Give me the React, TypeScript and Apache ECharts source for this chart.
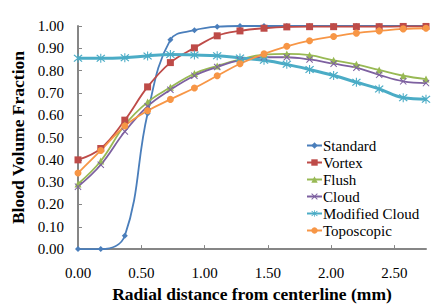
import React, { useEffect, useRef } from "react";
import * as echarts from "echarts";

const radialDistance = [0, 0.18, 0.37, 0.55, 0.73, 0.92, 1.1, 1.28, 1.47, 1.65, 1.83, 2.02, 2.2, 2.38, 2.57, 2.75];
const standard = [0, 0, 0.06, 0.608, 0.938, 0.981, 0.997, 1.0, 1.0, 1.0, 1.0, 1.0, 1.0, 1.0, 1.0, 1.0];
const vortex = [0.4, 0.451, 0.578, 0.727, 0.836, 0.902, 0.956, 0.978, 0.99, 0.996, 0.997, 0.997, 0.997, 0.997, 0.998, 0.998];
const flush = [0.292, 0.395, 0.556, 0.659, 0.725, 0.787, 0.821, 0.85, 0.872, 0.875, 0.869, 0.846, 0.828, 0.803, 0.777, 0.762];
const cloud = [0.28, 0.378, 0.527, 0.64, 0.714, 0.777, 0.816, 0.847, 0.86, 0.86, 0.85, 0.831, 0.813, 0.781, 0.752, 0.744];
const modifiedCloud = [0.855, 0.855, 0.858, 0.866, 0.872, 0.87, 0.867, 0.857, 0.846, 0.828, 0.805, 0.778, 0.748, 0.718, 0.678, 0.672];
const toposcopic = [0.341, 0.442, 0.552, 0.62, 0.671, 0.722, 0.777, 0.831, 0.875, 0.909, 0.934, 0.953, 0.968, 0.978, 0.987, 0.99];
const xTicks = [0, 0.5, 1, 1.5, 2, 2.5];

const X_SYMBOL = "path://M0,1 L1,0 L5,4 L9,0 L10,1 L6,5 L10,9 L9,10 L5,6 L1,10 L0,9 L4,5 Z";
const AST_SYMBOL = "path://M0,1 L1,0 L5,4 L9,0 L10,1 L6,5 L10,9 L9,10 L5,6 L1,10 L0,9 L4,5 Z M4.4,-1 L5.6,-1 L5.6,11 L4.4,11 Z";

const FONT = "Liberation Serif";

export default function App() {
  const ref = useRef<HTMLDivElement>(null);
  useEffect(() => {
    if (!ref.current) return;
    const chart = echarts.init(ref.current, null, { renderer: "svg" });
    const mk = (name: string, data: number[], color: string, symbol: string, size: number, width = 1.8) => ({
      name,
      type: "line",
      data: data.map((v, i) => [radialDistance[i], v]),
      smooth: 0.4,
      symbol,
      symbolSize: size,
      itemStyle: { color },
      lineStyle: { color, width },
    });
    chart.setOption({
      animation: false,
      textStyle: { fontFamily: FONT },
      grid: { left: 78, right: 21, top: 26, bottom: 55 },
      legend: {
        orient: "vertical",
        left: 301,
        top: 133,
        itemWidth: 15,
        itemHeight: 8,
        itemGap: 2,
        textStyle: { fontFamily: FONT, fontSize: 15, lineHeight: 15, color: "#000", padding: [0, 0, 0, -4] },
        data: ["Standard", "Vortex", "Flush", "Cloud", "Modified Cloud", "Toposcopic"],
      },
      xAxis: {
        type: "value",
        min: 0,
        max: 2.75,
        interval: 0.5,
        name: "Radial distance from centerline (mm)",
        nameLocation: "middle",
        nameGap: 29,
        nameTextStyle: { fontFamily: FONT, fontSize: 17.5, fontWeight: "bold", color: "#000" },
        axisLine: { lineStyle: { color: "#868686", width: 2 } },
        axisTick: { inside: true, length: 4, customValues: xTicks, lineStyle: { color: "#868686" } },
        axisLabel: {
          customValues: xTicks,
          margin: 16,
          fontFamily: FONT,
          fontSize: 15,
          color: "#000",
          formatter: (v: number) => v.toFixed(2),
        },
        splitLine: { show: false },
      },
      yAxis: {
        type: "value",
        min: 0,
        max: 1,
        interval: 0.1,
        name: "Blood Volume Fraction",
        nameLocation: "middle",
        nameGap: 50,
        nameTextStyle: { fontFamily: FONT, fontSize: 17.5, fontWeight: "bold", color: "#000" },
        axisLine: { show: true, lineStyle: { color: "#868686", width: 2 } },
        axisTick: { show: true, inside: true, length: 4, lineStyle: { color: "#868686" } },
        axisLabel: {
          margin: 14,
          fontFamily: FONT,
          fontSize: 15,
          color: "#000",
          formatter: (v: number) => v.toFixed(2),
        },
        splitLine: { show: false },
      },
      series: [
        mk("Standard", standard, "#4a7ebb", "diamond", 6),
        mk("Vortex", vortex, "#be4b48", "rect", 7),
        mk("Flush", flush, "#98b954", "triangle", 7),
        mk("Cloud", cloud, "#7d60a0", X_SYMBOL, 7),
        mk("Modified Cloud", modifiedCloud, "#4bacc6", AST_SYMBOL, 9, 3),
        mk("Toposcopic", toposcopic, "#f79646", "circle", 7),
      ],
    });
    return () => chart.dispose();
  }, []);
  return <div ref={ref} style={{ width: 447, height: 308, position: "absolute", left: 0, top: 0 }} />;
}
